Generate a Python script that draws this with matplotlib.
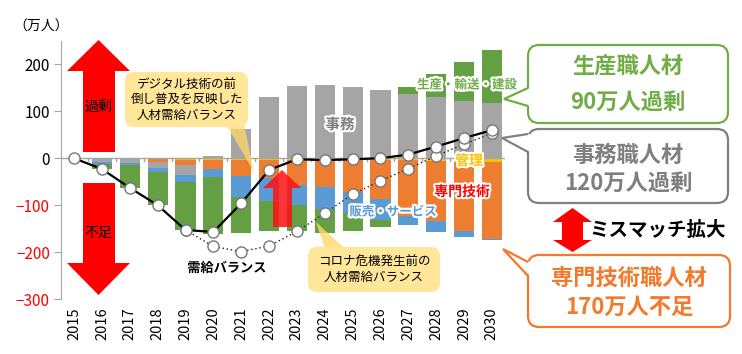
import numpy as np
import matplotlib
matplotlib.use("Agg")
import matplotlib.pyplot as plt
import matplotlib.transforms as mtransforms
import matplotlib.patheffects as pe
from matplotlib.patches import Polygon, FancyBboxPatch

plt.rcParams['font.family'] = ['Noto Sans CJK JP', 'DejaVu Sans']

# data (万人)
years = list(range(2015, 2031))
gray_pos = [0, 0, 0, 0, 0, 5, 63, 130, 155, 156, 151, 145, 137, 131, 122, 117]
green_pos = [0, 0, 0, 0, 0, 0, 0, 0, 0, 0, 0, 0, 14, 49, 84, 114]
yellow = [0, -0.5, -1, -2, -3, -4, -4, -3, -3, -3, -3, -3, -4, -5, -7, -7]
orange = [0, -1.5, -1, -5, -11, -18, -33, -40, -53, -59, -68, -84, -120, -129, -149, -165]
gray_neg = [0, -5, -8, -14, -22, 0, 0, 0, 0, 0, 0, 0, 0, 0, 0, 0]
blue = [0, -5, -4, -8, -14, -18, -45, -49, -44, -47, -46, -45, -18, -24, -11, -2]
green_neg = [0, -11, -49, -71, -103, -122, -77, -64, -55, -51, -37, -15, 0, 0, 0, 0]
balance = [0, -23, -63, -100, -153, -157, -96, -25, -2, -4, -2, 0, 8, 25, 43, 60]
pre_covid = [np.nan, np.nan, np.nan, np.nan, -153, -188, -199, -187, -156, -117,
             -77, -48, -22, 5, 30, 53]

c_green = '#64a043'
c_gray = '#a5a5a5'
c_orange = '#ed7d31'
c_blue = '#5b9bd5'
c_yellow = '#ffc000'

W, H = 742, 354
fig = plt.figure(figsize=(W / 100, H / 100), dpi=100)
ax = fig.add_axes([61 / W, 1 - 299 / H, (505 - 61) / W, (299 - 41) / H])
# pixel coordinates, origin top-left
pxT = mtransforms.Affine2D().scale(1 / W, -1 / H).translate(0, 1) + fig.transFigure

x = np.arange(len(years))
bw = 0.72

# positive stack
bottom = np.zeros(len(x))
for vals, col in [(gray_pos, c_gray), (green_pos, c_green)]:
    ax.bar(x, vals, bw, bottom=bottom, color=col, zorder=2)
    bottom += np.array(vals)
# negative stack
bottom = np.zeros(len(x))
for vals, col in [(yellow, c_yellow), (orange, c_orange), (gray_neg, c_gray),
                  (blue, c_blue), (green_neg, c_green)]:
    ax.bar(x, vals, bw, bottom=bottom, color=col, zorder=2)
    bottom += np.array(vals)

ax.plot(x, pre_covid, color='#222222', lw=1, ls=(0, (1, 2)), marker='o',
        markersize=8, markerfacecolor='white', markeredgecolor='#777777', zorder=4)
ax.plot(x, balance, color='black', lw=1.6, marker='o', markersize=8,
        markerfacecolor='white', markeredgecolor='#777777', zorder=5)

ax.set_xlim(-0.47, 15.47)
ax.set_ylim(-300, 250)
ax.axhline(0, color='#a6a6a6', lw=1, zorder=3)
for b in np.arange(-0.5, 15.6, 1):
    ax.plot([b, b], [0, -5], color='#a6a6a6', lw=1, zorder=3)

for s in ['top', 'right', 'bottom']:
    ax.spines[s].set_visible(False)
ax.spines['left'].set_color('#a6a6a6')
ax.set_yticks([-300, -200, -100, 0, 100, 200])
ax.tick_params(axis='y', length=5, color='#a6a6a6', labelsize=11, pad=3)
for lab in ax.get_yticklabels():
    if lab.get_text().startswith(('-', '−')):
        lab.set_color('#ff0000')
ax.set_xticks(x)
ax.set_xticklabels([str(y) for y in years], rotation=90, fontsize=10.5)
ax.tick_params(axis='x', length=0, pad=6)

fig.text(41 / W, 1 - 27 / H, '（万人）', ha='center', va='center', fontsize=10)

glow = [pe.withStroke(linewidth=3, foreground='white')]
ax.text(340, 124, '事務', transform=pxT, ha='center', va='center', fontsize=10.5,
        color='#7f7f7f', weight='bold', path_effects=glow, zorder=6)
ax.text(467, 85, '生産・輸送・建設', transform=pxT, ha='center', va='center', fontsize=9,
        color='#70ad47', weight='bold', path_effects=glow, zorder=6)
ax.text(469, 161, '管理', transform=pxT, ha='center', va='center', fontsize=10,
        color=c_yellow, weight='bold', path_effects=glow, zorder=6)
ax.text(462, 192, '専門技術', transform=pxT, ha='center', va='center', fontsize=10,
        color='#ff0000', weight='bold', path_effects=glow, zorder=6)
ax.text(393, 212, '販売・サービス', transform=pxT, ha='center', va='center', fontsize=9,
        color=c_blue, weight='bold', path_effects=glow, zorder=6)
ax.text(227, 268, '需給バランス', transform=pxT, ha='center', va='center', fontsize=9.5,
        color='black', weight='bold', path_effects=glow, zorder=6)

# red arrows 過剰 / 不足
up = [(83, 152), (115, 152), (115, 71), (130, 71), (98.5, 40), (67, 71), (83, 71)]
dn = [(83, 183), (115, 183), (115, 263), (130, 263), (98.5, 295), (67, 263), (83, 263)]
for pts in (up, dn):
    fig.add_artist(Polygon(pts, closed=True, transform=pxT, color='#ff0000', lw=0))
fig.text(98.5 / W, 1 - 107 / H, '過剰', ha='center', va='center', fontsize=10)
fig.text(98.5 / W, 1 - 233 / H, '不足', ha='center', va='center', fontsize=10)

# arrow at 2022
a22 = [(273, 227), (292, 227), (292, 188), (301, 188), (282, 170), (263, 188), (273, 188)]
ax.add_patch(Polygon(a22, closed=True, transform=pxT, color='#ff1010', alpha=0.85,
                     lw=0, zorder=3.5))

# yellow callouts
ax.add_patch(Polygon([(226, 124), (244, 124), (254, 172)], closed=True, transform=pxT,
                     color='#ffd966', alpha=0.75, lw=0, zorder=3.2, clip_on=False))
fig.add_artist(FancyBboxPatch((125, 72), 123, 55, boxstyle='round,pad=0,rounding_size=9',
                              transform=pxT, facecolor='#ffe699', edgecolor='none'))
fig.text(187 / W, 1 - 99.5 / H, 'デジタル技術の前\n倒し普及を反映した\n人材需給バランス',
         ha='center', va='center', fontsize=9, linespacing=1.25)

ax.add_patch(Polygon([(325, 249), (345, 249), (316, 222)], closed=True, transform=pxT,
                     color='#ffd966', alpha=0.8, lw=0, zorder=3.2, clip_on=False))
fig.add_artist(FancyBboxPatch((308, 247), 132, 45, boxstyle='round,pad=0,rounding_size=9',
                              transform=pxT, facecolor='#ffe699', edgecolor='none'))
fig.text(374 / W, 1 - 270 / H, 'コロナ危機発生前の\n人材需給バランス',
         ha='center', va='center', fontsize=9, linespacing=1.25)


def callout(x0, y0, w, h, base, tip, col, lines, tcol):
    fig.add_artist(FancyBboxPatch((x0, y0), w, h, boxstyle='round,pad=0,rounding_size=11',
                                  transform=pxT, facecolor='white', edgecolor=col, lw=1.6))
    (b1, b2) = base
    fig.add_artist(Polygon([(x0 + 2, b1), tip, (x0 + 2, b2)], closed=True, transform=pxT,
                           facecolor='white', edgecolor='none'))
    fig.add_artist(Polygon([(x0, b1), tip, (x0, b2)], closed=False, transform=pxT,
                           fill=False, edgecolor=col, lw=1.6))
    for ty, s in lines:
        fig.text((x0 + w / 2) / W, 1 - ty / H, s, ha='center', va='center', fontsize=16,
                 weight='bold', color=tcol)


callout(528, 45, 200, 78, (88, 106), (504, 99), '#70ad47',
        [(67, '生産職人材'), (102, '90万人過剰')], '#70ad47')
callout(528, 129, 200, 74, (134, 152), (502, 138), '#808080',
        [(155, '事務職人材'), (183, '120万人過剰')], '#7f7f7f')
callout(528, 255, 202, 72, (262, 276), (503, 249), '#f4792b',
        [(278, '専門技術職人材'), (307, '170万人不足')], '#f4792b')

dbl = [(572.5, 208), (592, 222), (583, 222), (583, 240), (592, 240), (572.5, 252),
       (553, 240), (562, 240), (562, 222), (553, 222)]
fig.add_artist(Polygon(dbl, closed=True, transform=pxT, color='#ff0000', lw=0))
fig.text(658 / W, 1 - 230 / H, 'ミスマッチ拡大', ha='center', va='center',
         fontsize=14, weight='bold')

plt.savefig('out.png', dpi=100)
